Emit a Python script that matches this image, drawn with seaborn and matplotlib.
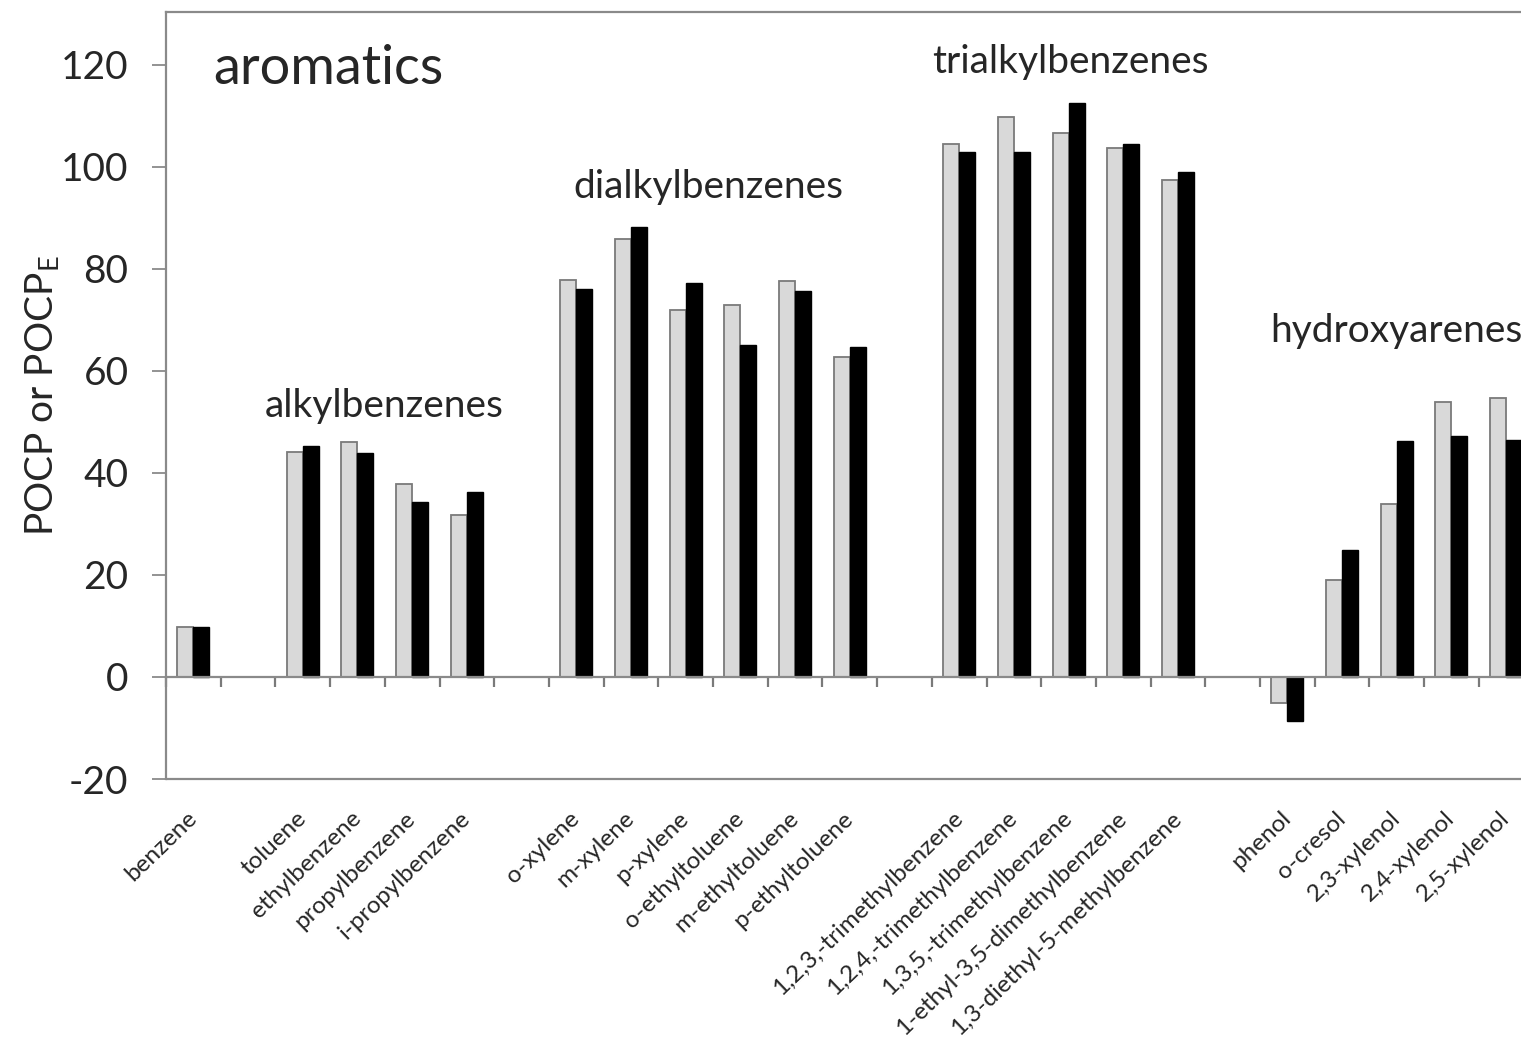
import matplotlib
matplotlib.use("Agg")
import matplotlib.pyplot as plt
import seaborn as sns
import pandas as pd

# Compounds in plotting order; empty strings separate the chemical families
compounds = [
    "benzene", "",
    "toluene", "ethylbenzene", "propylbenzene", "i-propylbenzene", "",
    "o-xylene", "m-xylene", "p-xylene", "o-ethyltoluene", "m-ethyltoluene", "p-ethyltoluene", "",
    "1,2,3,-trimethylbenzene", "1,2,4,-trimethylbenzene", "1,3,5,-trimethylbenzene",
    "1-ethyl-3,5-dimethylbenzene", "1,3-diethyl-5-methylbenzene", "",
    "phenol", "o-cresol", "2,3-xylenol", "2,4-xylenol", "2,5-xylenol",
]

# POCP (light bars) and POCP_E (black bars); None for the separator slots
pocp = [
    9.7, None,
    44.0, 46.0, 37.8, 31.8, None,
    77.7, 85.8, 71.9, 72.9, 77.5, 62.7, None,
    104.4, 109.8, 106.5, 103.6, 97.4, None,
    -5.1, 18.9, 33.8, 53.8, 54.7,
]
pocp_e = [
    9.7, None,
    45.2, 43.8, 34.2, 36.2, None,
    76.1, 88.2, 77.1, 65.0, 75.6, 64.6, None,
    102.9, 102.8, 112.4, 104.4, 98.9, None,
    -8.6, 24.8, 46.3, 47.3, 46.4,
]

series_names = ["POCP", "POCP_E"]
series_colors = ["#d9d9d9", "#000000"]

group_labels = ["alkylbenzenes", "dialkylbenzenes", "trialkylbenzenes", "hydroxyarenes"]
group_label_x = [3.49, 9.41, 16.04, 22.0]
group_label_y = [53.1, 96.1, 120.5, 67.8]

yticks = [-20, 0, 20, 40, 60, 80, 100, 120]

# Unique category keys so the empty separator slots stay distinct
keys = [c if c else " " * (i + 1) for i, c in enumerate(compounds)]

rows = []
for k, a, b in zip(keys, pocp, pocp_e):
    if a is not None:
        rows.append({"compound": k, "series": series_names[0], "value": a})
        rows.append({"compound": k, "series": series_names[1], "value": b})
df = pd.DataFrame(rows)

sns.set_style("white", {"xtick.bottom": True, "ytick.left": True})
plt.rcParams["font.family"] = ["Lato", "DejaVu Sans"]
plt.rcParams["mathtext.default"] = "regular"

frame = "#8a8a8a"
text_color = "#262626"

fig = plt.figure(figsize=(15.21, 10.42), dpi=100)
ax = fig.add_axes([166 / 1521, 263 / 1042, 1367.5 / 1521, 767 / 1042])

sns.barplot(
    data=df, x="compound", y="value", hue="series",
    order=keys, hue_order=series_names,
    palette=dict(zip(series_names, series_colors)),
    width=0.585, gap=0, legend=False, ax=ax, saturation=1,
)

for container, ec, lw in zip(ax.containers, ["#7a7a7a", "#000000"], [1.3, 1.0]):
    for patch in container:
        patch.set_edgecolor(ec)
        patch.set_linewidth(lw)

ymin, ymax = -20, 130.3
ax.set_xlim(-0.5, len(keys) - 0.5)
ax.set_ylim(ymin, ymax)
ax.set_yticks(yticks)
ax.set_yticklabels([str(t) for t in yticks])
ax.tick_params(axis="y", direction="out", length=10, width=1.3, color=frame,
               pad=17, labelsize=28, labelcolor=text_color, left=True)

for side in ["left", "top", "bottom", "right"]:
    ax.spines[side].set_visible(True)
    ax.spines[side].set_color(frame)
    ax.spines[side].set_linewidth(1.6)

# The category axis crosses at zero; the plot border below is drawn separately
ax.spines["bottom"].set_position(("data", 0))
ax.axhline(ymin, color=frame, linewidth=1.6, clip_on=False, zorder=3)

# Category names below the plot border, ticks between categories on the zero line
ax.set_xticks(range(len(keys)))
ax.set_xticklabels(compounds)
ax.set_xticks([i + 0.5 for i in range(-1, len(keys))], minor=True)
border_gap_pt = (0 - ymin) / (ymax - ymin) * 767 * 72 / 100
ax.tick_params(axis="x", which="major", bottom=True, length=0, pad=26 + border_gap_pt,
               labelsize=17.5, labelcolor=text_color)
ax.tick_params(axis="x", which="minor", bottom=True, direction="out",
               length=7, width=1.6, color="#7a7a7a")
for lab in ax.get_xticklabels():
    lab.set_rotation(44)
    lab.set_ha("right")
    lab.set_va("center")
    lab.set_rotation_mode("anchor")

ax.set_xlabel("")
ax.set_ylabel("POCP or POCP$_{E}$", fontsize=28, color=text_color, labelpad=0)

ax.text(0.36, 119.3, "aromatics", fontsize=39, color=text_color, ha="left", va="center")
for lbl, gx, gy in zip(group_labels, group_label_x, group_label_y):
    ax.text(gx, gy, lbl, fontsize=28, color=text_color, ha="center", va="center")

fig.savefig("out.png", dpi=100)
